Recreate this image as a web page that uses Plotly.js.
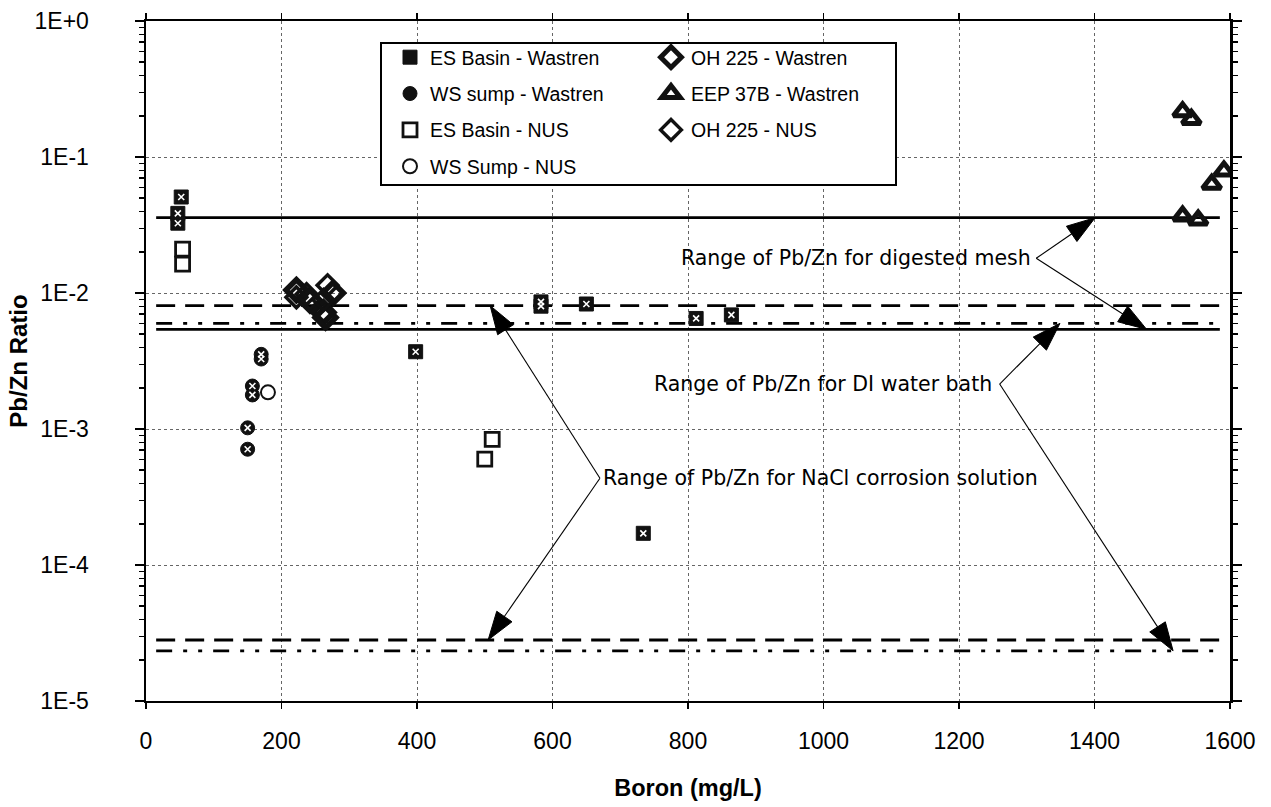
<!DOCTYPE html>
<html><head><meta charset="utf-8">
<script src="https://cdn.plot.ly/plotly-3.0.1.min.js"></script>
<style>html,body{margin:0;padding:0;background:#fff}#chart{width:1271px;height:807px}</style>
</head><body><div id="chart"></div>
<script>
// ---- data ----
const esBasinWastrenB = [52, 47, 47, 398, 583, 583, 650, 812, 864, 734];
const esBasinWastrenR = [0.0508, 0.0385, 0.0326, 0.0037, 0.0086, 0.0080, 0.0083, 0.0065, 0.0069, 0.000171];
const oh225WastrenB = [222, 242, 262, 265, 276];
const oh225WastrenR = [0.0105, 0.0088, 0.0072, 0.0066, 0.0100];
const wsSumpWastrenB = [170, 170, 157, 157, 150, 150];
const wsSumpWastrenR = [0.00354, 0.00327, 0.00207, 0.00178, 0.00102, 0.00071];
const eep37bWastrenB = [1530, 1543, 1591, 1573, 1530, 1553];
const eep37bWastrenR = [0.215, 0.189, 0.0789, 0.063, 0.0368, 0.0344];
const esBasinNusB = [54, 54, 511, 500];
const esBasinNusR = [0.0210, 0.0163, 0.00084, 0.00060];
const oh225NusB = [222, 237, 262, 268];
const oh225NusR = [0.0093, 0.0098, 0.0089, 0.0114];
const wsSumpNusB = [180];
const wsSumpNusR = [0.00186];

const rangeLineX = [15, 1585];
const meshRange = [0.0358, 0.0054];     // solid
const naclRange = [0.00807, 2.81e-5];   // dashed
const diRange = [0.00598, 2.34e-5];     // dash-dot-dot

const yTickVals = [1, 0.1, 0.01, 0.001, 0.0001, 0.00001];
const yTickText = ['1E+0', '1E-1', '1E-2', '1E-3', '1E-4', '1E-5'];

const meshLabel = 'Range of Pb/Zn for digested mesh';
const diLabel = 'Range of Pb/Zn for DI water bath';
const naclLabel = 'Range of Pb/Zn for NaCl corrosion solution';
const meshVertex = [1314, 0.018];
const meshTips = [[1401, 0.0358], [1477, 0.0054]];
const diVertex = [1260, 0.00214];
const diTips = [[1349, 0.00598], [1516, 2.34e-5]];
const naclVertex = [670, 0.000434];
const naclTips = [[508, 0.00807], [505, 2.81e-5]];

// ---- traces ----
const FONT = 'Liberation Sans, Arial, sans-serif';
function pts(name, x, y, marker, legend, group) {
  return {type: 'scatter', mode: 'markers', name: name, x: x, y: y, marker: marker,
          legend: legend, legendgroup: group, hoverinfo: 'x+y'};
}
function overlay(x, y, size, legend, group) {
  return {type: 'scatter', mode: 'markers', x: x, y: y, showlegend: false, legend: legend,
          legendgroup: group, hoverinfo: 'skip',
          marker: {symbol: 'x-thin', size: size, color: '#fff', line: {color: '#fff', width: 1.6}}};
}
const traces = [
  pts('ES Basin - Wastren', esBasinWastrenB, esBasinWastrenR,
      {symbol: 'square', size: 14, color: '#111', line: {color: '#111', width: 1}}, 'legend', 'a'),
  overlay(esBasinWastrenB, esBasinWastrenR, 6, 'legend', 'a'),
  pts('WS sump - Wastren', wsSumpWastrenB, wsSumpWastrenR,
      {symbol: 'circle', size: 14, color: '#111', line: {color: '#111', width: 1}}, 'legend', 'b'),
  overlay(wsSumpWastrenB, wsSumpWastrenR, 6, 'legend', 'b'),
  pts('ES Basin - NUS', esBasinNusB, esBasinNusR,
      {symbol: 'square-open', size: 14, color: '#111', line: {color: '#111', width: 2.8}}, 'legend', 'c'),
  pts('WS Sump - NUS', wsSumpNusB, wsSumpNusR,
      {symbol: 'circle-open', size: 14, color: '#111', line: {color: '#111', width: 2}}, 'legend', 'd'),
  pts('OH 225 - Wastren', oh225WastrenB, oh225WastrenR,
      {symbol: 'diamond-open', size: 16, color: '#111', line: {color: '#111', width: 5.5}}, 'legend2', 'e'),
  pts('EEP 37B - Wastren', eep37bWastrenB, eep37bWastrenR,
      {symbol: 'triangle-up-open', size: 16, color: '#111', line: {color: '#111', width: 5}}, 'legend2', 'f'),
  pts('OH 225 - NUS', oh225NusB, oh225NusR,
      {symbol: 'diamond-open', size: 16, color: '#111', line: {color: '#111', width: 3.5}}, 'legend2', 'g')
];
function rangeLines(vals, dash) {
  return vals.map(v => ({type: 'scatter', mode: 'lines', x: rangeLineX, y: [v, v],
    line: {color: '#000', width: 2.8, dash: dash}, showlegend: false, hoverinfo: 'skip'}));
}
const lineTraces = [].concat(
  rangeLines(meshRange, 'solid'),
  rangeLines(naclRange, '19px,10px'),
  rangeLines(diRange, '16px,11px,4px,11px,4px,11px')
);
// pointer lines with arrow-shaped heads oriented along the line
function pointers(vertex, tips) {
  return tips.map(t => ({type: 'scatter', mode: 'lines+markers', x: [vertex[0], t[0]], y: [vertex[1], t[1]],
    line: {color: '#000', width: 1.1}, showlegend: false, hoverinfo: 'skip',
    marker: {symbol: 'arrow', size: [0, 30], color: '#000', opacity: 1, angleref: 'previous',
             line: {color: '#000', width: 1}}}));
}
const pointerTraces = [].concat(pointers(meshVertex, meshTips), pointers(diVertex, diTips), pointers(naclVertex, naclTips));

// ---- text labels ----
const L = Math.log10;
const annFont = {family: 'DejaVu Sans, sans-serif', size: 20.5, color: '#000'};
const annotations = [
  {x: meshVertex[0], y: L(meshVertex[1]), xref: 'x', yref: 'y', text: meshLabel, showarrow: false,
   xanchor: 'right', yanchor: 'middle', xshift: -3, font: annFont},
  {x: diVertex[0], y: L(diVertex[1]), xref: 'x', yref: 'y', text: diLabel, showarrow: false,
   xanchor: 'right', yanchor: 'middle', xshift: -6, font: annFont},
  {x: naclVertex[0], y: L(naclVertex[1]), xref: 'x', yref: 'y', text: naclLabel, showarrow: false,
   xanchor: 'left', yanchor: 'middle', xshift: 1, font: annFont}
];

const legendFont = {family: FONT, size: 19.5, color: '#000'};
const layout = {
  width: 1271, height: 807,
  margin: {l: 146, r: 41, t: 21, b: 106},
  paper_bgcolor: '#fff', plot_bgcolor: '#fff',
  font: {family: FONT, color: '#000'},
  showlegend: true,
  xaxis: {
    range: [0, 1600], dtick: 200, tick0: 0,
    showline: true, linecolor: '#000', linewidth: 2, mirror: 'ticks',
    ticks: 'outside', ticklen: 6, tickwidth: 1.5, tickcolor: '#000',
    showgrid: true, gridcolor: '#666', griddash: 'dot', gridwidth: 1,
    zeroline: false,
    tickfont: {family: FONT, size: 23, color: '#000'},
    ticklabelstandoff: 12,
    title: {text: '<b>Boron (mg/L)</b>', font: {family: FONT, size: 23.5, color: '#000'}, standoff: 27}
  },
  yaxis: {
    type: 'log', range: [-5, 0],
    tickmode: 'array', tickvals: yTickVals, ticktext: yTickText,
    showline: true, linecolor: '#000', linewidth: 2.5, mirror: 'ticks',
    ticks: 'outside', ticklen: 9, tickwidth: 1.5, tickcolor: '#000',
    minor: {dtick: 'D1', ticks: 'outside', ticklen: 5, tickwidth: 1.2, tickcolor: '#000', showgrid: false},
    showgrid: true, gridcolor: '#666', griddash: 'dot', gridwidth: 1,
    zeroline: false,
    tickfont: {family: FONT, size: 23, color: '#000'},
    ticklabelstandoff: 41,
    title: {text: '<b>Pb/Zn Ratio</b>', font: {family: FONT, size: 24, color: '#000'}, standoff: 0}
  },
  legend: {x: (390 - 146) / 1084, y: 1 - (38 - 21) / 680, xanchor: 'left', yanchor: 'top',
           bgcolor: 'rgba(0,0,0,0)', borderwidth: 0, font: legendFont,
           traceorder: 'grouped', tracegroupgap: 8},
  legend2: {x: (651 - 146) / 1084, y: 1 - (38 - 21) / 680, xanchor: 'left', yanchor: 'top',
            bgcolor: 'rgba(0,0,0,0)', borderwidth: 0, font: legendFont,
            traceorder: 'grouped', tracegroupgap: 8},
  shapes: [{type: 'rect', xref: 'paper', yref: 'paper',
            x0: (381 - 146) / 1084, x1: (896 - 146) / 1084,
            y0: 1 - (185 - 21) / 680, y1: 1 - (43 - 21) / 680,
            fillcolor: '#fff', line: {color: '#000', width: 2}, layer: 'above'}],
  annotations: annotations
};

Plotly.newPlot('chart', lineTraces.concat(pointerTraces, traces), layout, {displayModeBar: false, staticPlot: true});
</script>
</body></html>
